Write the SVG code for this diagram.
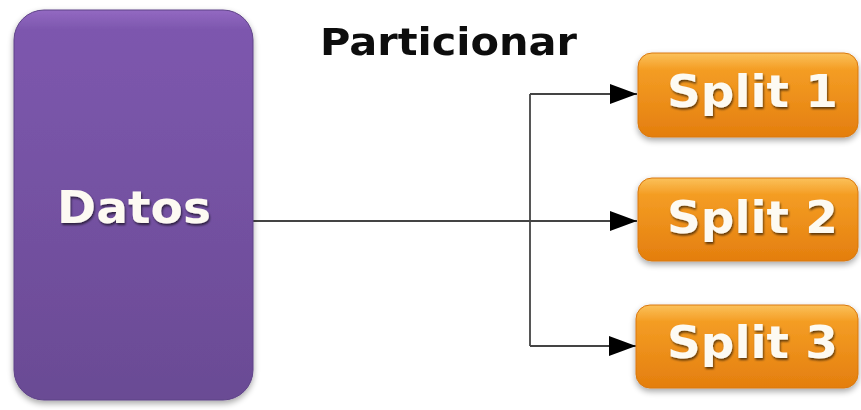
<svg xmlns="http://www.w3.org/2000/svg" width="861" height="410" viewBox="0 0 861 410">
  <defs>
    <linearGradient id="purpleFill" x1="0" y1="0" x2="0" y2="1">
      <stop offset="0" stop-color="#9369c2"/>
      <stop offset="0.05" stop-color="#7d57ae"/>
      <stop offset="1" stop-color="#6a4b94"/>
    </linearGradient>
    <linearGradient id="orangeFill" x1="0" y1="0" x2="0" y2="1">
      <stop offset="0" stop-color="#fbc15a"/>
      <stop offset="0.2" stop-color="#f49d24"/>
      <stop offset="1" stop-color="#e47e0e"/>
    </linearGradient>
    <filter id="boxShadow" x="-10%" y="-10%" width="120%" height="125%">
      <feGaussianBlur in="SourceAlpha" stdDeviation="3"/>
      <feOffset dx="0" dy="3" result="b"/>
      <feComponentTransfer><feFuncA type="linear" slope="0.35"/></feComponentTransfer>
      <feMerge><feMergeNode/><feMergeNode in="SourceGraphic"/></feMerge>
    </filter>
    <filter id="textShadow" x="-10%" y="-20%" width="120%" height="150%">
      <feGaussianBlur in="SourceAlpha" stdDeviation="1.2"/>
      <feOffset dx="1" dy="2"/>
      <feComponentTransfer><feFuncA type="linear" slope="0.6"/></feComponentTransfer>
      <feMerge><feMergeNode/><feMergeNode in="SourceGraphic"/></feMerge>
    </filter>
    <filter id="soft" x="-5%" y="-20%" width="110%" height="140%">
      <feGaussianBlur stdDeviation="0.7"/>
    </filter>
    <marker id="arrowBig" viewBox="0 0 27 20" refX="27" refY="10" markerWidth="27" markerHeight="20" orient="auto" markerUnits="userSpaceOnUse">
      <path d="M0,0 L27,10 L0,20 z" fill="#000"/>
    </marker>
  </defs>
  <style>
    .node-label { font-family: "DejaVu Sans", "Open Sans", sans-serif; font-weight: bold; fill: #fdfaf2; }
    .split { fill: url(#orangeFill); stroke: #d9780f; stroke-width: 1; }
    .link { fill: none; stroke: #444; stroke-width: 1.8; }
    .title { font-family: "DejaVu Sans", "Open Sans", sans-serif; font-weight: bold; fill: #111; }
  </style>

  <rect width="861" height="410" fill="#ffffff"/>

  <text class="title" x="320" y="55" font-size="37" textLength="257" lengthAdjust="spacingAndGlyphs" filter="url(#soft)">Particionar</text>

  <g id="connectors">
    <path class="link" d="M253,221 H530"/>
    <path class="link" d="M530,94 V346"/>
    <path class="link" d="M530,94 H637" marker-end="url(#arrowBig)"/>
    <path class="link" d="M530,221 H637" marker-end="url(#arrowBig)"/>
    <path class="link" d="M530,346 H636" marker-end="url(#arrowBig)"/>
  </g>

  <g id="datos" filter="url(#boxShadow)">
    <rect x="14" y="10" width="239" height="390" rx="30" ry="30" fill="url(#purpleFill)" stroke="#5e4287" stroke-width="1"/>
    <text class="node-label" x="57" y="223" font-size="45" textLength="154" lengthAdjust="spacingAndGlyphs" filter="url(#textShadow)">Datos</text>
  </g>

  <g id="split1" filter="url(#boxShadow)">
    <rect class="split" x="638" y="53" width="220" height="84" rx="14" ry="14"/>
    <text class="node-label" x="667" y="107" font-size="45" textLength="171" lengthAdjust="spacingAndGlyphs" filter="url(#textShadow)">Split 1</text>
  </g>

  <g id="split2" filter="url(#boxShadow)">
    <rect class="split" x="638" y="178" width="220" height="83" rx="14" ry="14"/>
    <text class="node-label" x="667" y="233" font-size="45" textLength="171" lengthAdjust="spacingAndGlyphs" filter="url(#textShadow)">Split 2</text>
  </g>

  <g id="split3" filter="url(#boxShadow)">
    <rect class="split" x="636" y="305" width="222" height="83" rx="14" ry="14"/>
    <text class="node-label" x="667" y="358" font-size="45" textLength="171" lengthAdjust="spacingAndGlyphs" filter="url(#textShadow)">Split 3</text>
  </g>
</svg>
